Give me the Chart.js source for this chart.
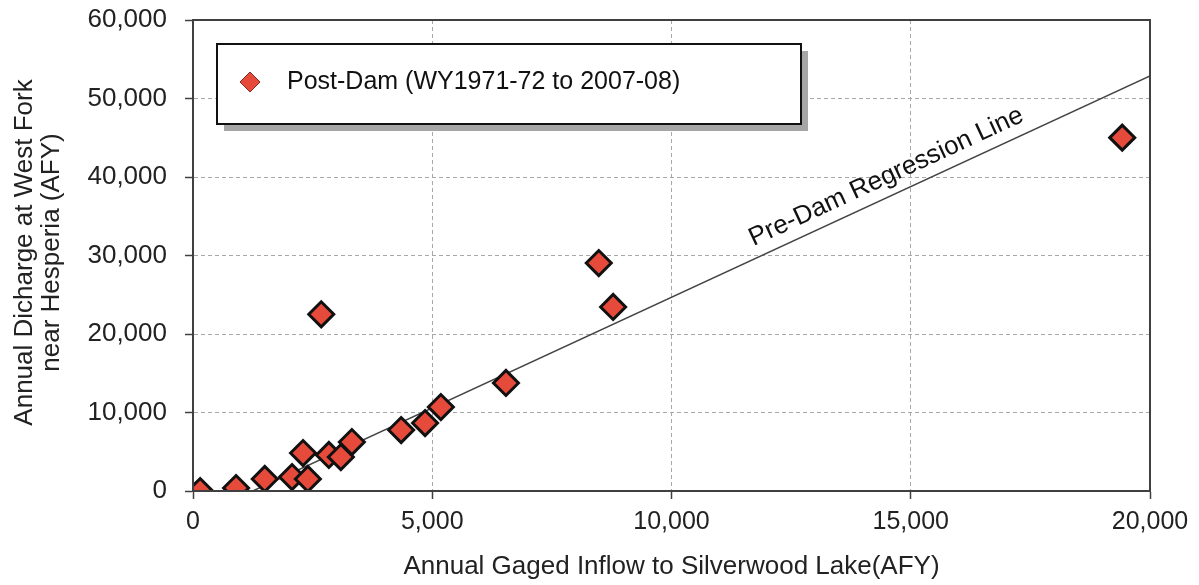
<!DOCTYPE html>
<html>
<head>
<meta charset="utf-8">
<script src="https://cdn.jsdelivr.net/npm/chart.js@4"></script>
<style>
  html, body { margin: 0; padding: 0; background: #ffffff; }
  #wrap { width: 1199px; height: 585px; position: relative; }
</style>
</head>
<body>
<div id="wrap"><canvas id="chart" width="1199" height="585"></canvas></div>
<script>
// Post-dam annual values (acre-feet per year)
const inflowAFY    = [150, 900, 1500, 2070, 2400, 2300, 2840, 3090, 3320, 4350, 4850, 5180, 6540, 8480, 8780, 2680, 19420];
const dischargeAFY = [0, 380, 1530, 1780, 1530, 4840, 4590, 4330, 6240, 7770, 8660, 10700, 13760, 29040, 23440, 22510, 45010];

// Pre-dam regression line end points
const regressionX = [1250, 20000];
const regressionY = [0, 52870];

// Axis tick values
const xTickValues = [0, 5000, 10000, 15000, 20000];
const yTickValues = [0, 10000, 20000, 30000, 40000, 50000, 60000];

const seriesLabel = 'Post-Dam (WY1971-72 to 2007-08)';
const regressionLabel = 'Pre-Dam Regression Line';
const xTitle = 'Annual Gaged Inflow to Silverwood Lake(AFY)';
const yTitle = ['Annual Dicharge at West Fork', 'near Hesperia (AFY)'];

const FONT = '"Liberation Sans", Arial, Helvetica, sans-serif';
const RED = '#E64A3B';

const postDamPoints = inflowAFY.map((x, i) => ({ x, y: dischargeAFY[i] }));
const regressionPoints = regressionX.map((x, i) => ({ x, y: regressionY[i] }));

const fmt = v => Number(v).toLocaleString('en-US');

// Frame, legend box, rotated regression label and y-axis title
const decorations = {
  id: 'decorations',
  afterDatasetsDraw(chart) {
    const { ctx, chartArea: a, scales: { x, y } } = chart;
    ctx.save();

    // solid frame around the plot
    ctx.strokeStyle = '#404040';
    ctx.lineWidth = 2;
    ctx.strokeRect(a.left, a.top, a.right - a.left, a.bottom - a.top);

    // label along the regression line
    const x0 = x.getPixelForValue(regressionX[0]), y0 = y.getPixelForValue(regressionY[0]);
    const x1 = x.getPixelForValue(regressionX[1]), y1 = y.getPixelForValue(regressionY[1]);
    const ang = Math.atan2(y1 - y0, x1 - x0);
    const t = 0.715;
    const lx = x0 + (x1 - x0) * t, ly = y0 + (y1 - y0) * t;
    ctx.translate(lx, ly);
    ctx.rotate(ang);
    ctx.fillStyle = '#111';
    ctx.font = '26px ' + FONT;
    ctx.textAlign = 'center';
    ctx.textBaseline = 'middle';
    ctx.fillText(regressionLabel, 0, -19);
    ctx.restore();

    // legend box with drop shadow
    ctx.save();
    const bx = a.left + 24, by = a.top + 24, bw = 584, bh = 80;
    ctx.fillStyle = '#a6a6a6';
    ctx.fillRect(bx + 7, by + 7, bw, bh);
    ctx.fillStyle = '#ffffff';
    ctx.fillRect(bx, by, bw, bh);
    ctx.strokeStyle = '#111';
    ctx.lineWidth = 2;
    ctx.strokeRect(bx, by, bw, bh);
    const mx = bx + 33, my = by + bh / 2 - 2, r = 10;
    ctx.beginPath();
    ctx.moveTo(mx, my - r);
    ctx.lineTo(mx + r, my);
    ctx.lineTo(mx, my + r);
    ctx.lineTo(mx - r, my);
    ctx.closePath();
    ctx.fillStyle = RED;
    ctx.fill();
    ctx.strokeStyle = '#8a2a20';
    ctx.lineWidth = 1;
    ctx.stroke();
    ctx.fillStyle = '#111';
    ctx.font = '25px ' + FONT;
    ctx.textAlign = 'left';
    ctx.textBaseline = 'middle';
    ctx.fillText(chart.data.datasets[0].label, bx + 70, my);
    ctx.restore();

    // y-axis title, two rotated lines
    ctx.save();
    const cy = (a.top + a.bottom) / 2 - 3;
    ctx.font = '26px ' + FONT;
    ctx.fillStyle = '#222';
    ctx.textAlign = 'center';
    ctx.textBaseline = 'middle';
    yTitle.forEach((line, i) => {
      ctx.save();
      ctx.translate(25 + i * 27, cy);
      ctx.rotate(-Math.PI / 2);
      ctx.fillText(line, 0, 0);
      ctx.restore();
    });
    ctx.restore();
  }
};

new Chart(document.getElementById('chart'), {
  type: 'scatter',
  data: {
    datasets: [
      {
        label: seriesLabel,
        data: postDamPoints,
        pointStyle: 'rectRot',
        pointRadius: 12.5,
        pointHoverRadius: 12.5,
        backgroundColor: RED,
        borderColor: '#111111',
        borderWidth: 3,
        order: 0
      },
      {
        type: 'line',
        label: regressionLabel,
        data: regressionPoints,
        borderColor: '#444444',
        borderWidth: 1.4,
        pointRadius: 0,
        fill: false,
        order: 1
      }
    ]
  },
  options: {
    responsive: false,
    animation: false,
    events: [],
    layout: { padding: { top: 20, right: 49, left: 0, bottom: 0 } },
    plugins: {
      legend: { display: false },
      tooltip: { enabled: false }
    },
    scales: {
      x: {
        type: 'linear',
        min: 0,
        max: 20000,
        afterBuildTicks: s => { s.ticks = xTickValues.map(v => ({ value: v })); },
        afterFit: s => {
          s.height = 94;
          s.paddingLeft = 0;
          s.paddingRight = 0;
        },
        ticks: {
          callback: v => fmt(v),
          font: { family: FONT, size: 25 },
          color: '#222',
          padding: 8,
          maxRotation: 0
        },
        grid: {
          color: '#a8a8a8',
          lineWidth: 1,
          tickColor: '#404040',
          tickLength: 8,
          tickWidth: 1.5
        },
        border: { color: '#404040', width: 2, dash: [4, 3] },
        title: {
          display: true,
          text: xTitle,
          font: { family: FONT, size: 26 },
          color: '#222',
          padding: { top: 0, bottom: 3 }
        }
      },
      y: {
        type: 'linear',
        min: 0,
        max: 60000,
        afterBuildTicks: s => { s.ticks = yTickValues.map(v => ({ value: v })); },
        afterFit: s => {
          s.width = 193;
          s.paddingTop = 0;
          s.paddingBottom = 0;
        },
        ticks: {
          callback: v => fmt(v),
          font: { family: FONT, size: 26 },
          color: '#222',
          padding: 18
        },
        grid: {
          color: '#a8a8a8',
          lineWidth: 1,
          tickColor: '#404040',
          tickLength: 8,
          tickWidth: 1.5
        },
        border: { color: '#404040', width: 2, dash: [4, 3] }
      }
    }
  },
  plugins: [decorations]
});
</script>
</body>
</html>
